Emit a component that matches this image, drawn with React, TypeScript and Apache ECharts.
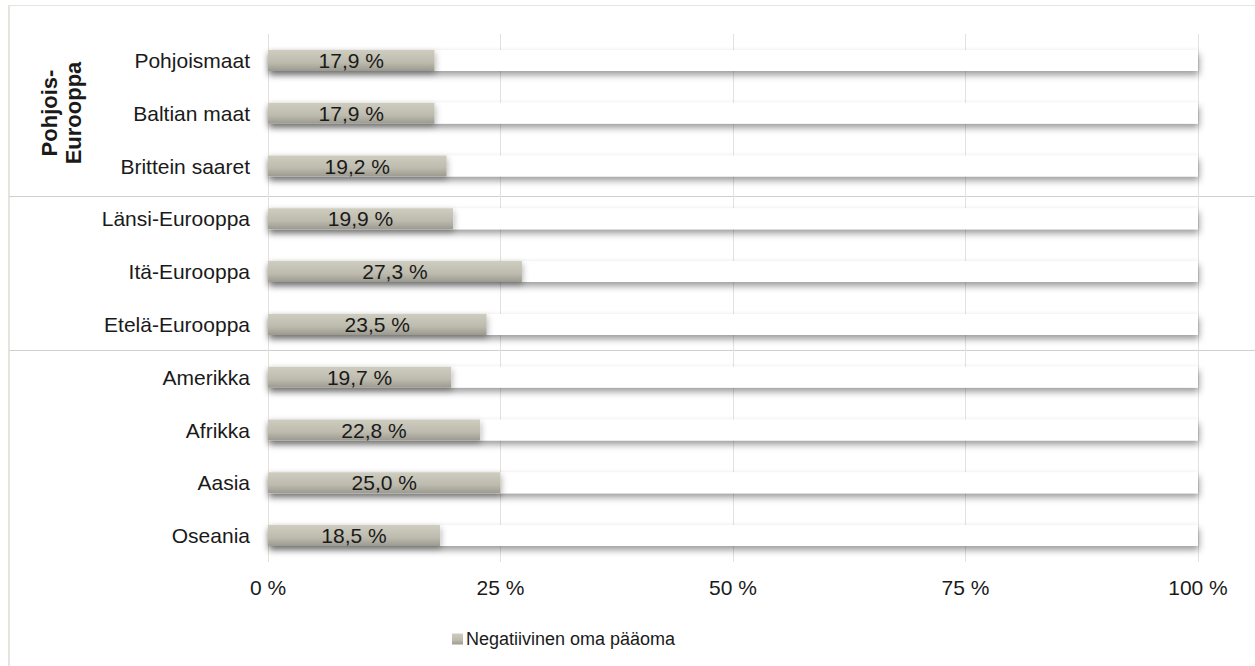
import React, { useEffect, useRef } from "react";
import * as echarts from "echarts";

const categories = [
  "Pohjoismaat",
  "Baltian maat",
  "Brittein saaret",
  "Länsi-Eurooppa",
  "Itä-Eurooppa",
  "Etelä-Eurooppa",
  "Amerikka",
  "Afrikka",
  "Aasia",
  "Oseania",
];
const values = [17.9, 17.9, 19.2, 19.9, 27.3, 23.5, 19.7, 22.8, 25.0, 18.5];
const seriesName = "Negatiivinen oma pääoma";
const groupLabel = "Pohjois-\nEurooppa";
const xTicks = [0, 25, 50, 75, 100];

const FONT = "'Liberation Sans', Arial, Helvetica, sans-serif";

export default function App() {
  const ref = useRef<HTMLDivElement>(null);
  useEffect(() => {
    if (!ref.current) return;
    const chart = echarts.init(ref.current, undefined, { renderer: "svg" });
    const barGrad = new echarts.graphic.LinearGradient(0, 0, 0, 1, [
      { offset: 0, color: "#cfccc0" },
      { offset: 0.6, color: "#bdbaae" },
      { offset: 1, color: "#9c9a8f" },
    ]);
    chart.setOption({
      animation: false,
      backgroundColor: "#ffffff",
      textStyle: { fontFamily: FONT },
      grid: { left: 268, right: 57, top: 34, bottom: 104, containLabel: false },
      legend: {
        data: [seriesName],
        left: 447,
        top: 625,
        icon: "rect",
        itemWidth: 11,
        itemHeight: 11,
        itemGap: 4,
        textStyle: { fontFamily: FONT, fontSize: 18, color: "#1a1a1a", padding: [0, 0, 0, -2] },
        selectedMode: false,
      },
      xAxis: {
        type: "value",
        min: xTicks[0],
        max: xTicks[xTicks.length - 1],
        interval: 25,
        axisLine: { show: false },
        axisTick: { show: false },
        splitLine: { show: true, lineStyle: { color: "#e4e2da", width: 1 } },
        axisLabel: {
          fontFamily: FONT,
          fontSize: 21,
          color: "#1a1a1a",
          margin: 15,
          formatter: (v: number) => `${v} %`,
        },
      },
      yAxis: {
        type: "category",
        data: categories,
        inverse: true,
        axisLine: { show: false },
        axisTick: { show: false },
        splitLine: { show: false },
        axisLabel: { fontFamily: FONT, fontSize: 21, color: "#1a1a1a", margin: 18 },
      },
      series: [
        {
          name: seriesName,
          type: "bar",
          data: values,
          barWidth: 21,
          itemStyle: {
            color: barGrad,
            shadowBlur: 6,
            shadowOffsetX: 1,
            shadowOffsetY: 3,
            shadowColor: "rgba(0,0,0,0.3)",
          },
          showBackground: true,
          backgroundStyle: {
            color: "#ffffff",
            shadowBlur: 7,
            shadowOffsetX: 1,
            shadowOffsetY: 4,
            shadowColor: "rgba(0,0,0,0.4)",
          },
          label: {
            show: true,
            position: "inside",
            fontFamily: FONT,
            fontSize: 21,
            color: "#1a1a1a",
            formatter: (p: any) => `${p.value.toFixed(1).replace(".", ",")} %`,
          },
        },
      ],
      graphic: [
        {
          type: "line",
          silent: true,
          shape: { x1: 9, y1: 5.5, x2: 1255, y2: 5.5 },
          style: { stroke: "#e6e4de", lineWidth: 1 },
        },
        {
          type: "line",
          silent: true,
          shape: { x1: 9, y1: 5, x2: 9, y2: 666 },
          style: { stroke: "#e6e4de", lineWidth: 2 },
        },
        {
          type: "line",
          silent: true,
          shape: { x1: 9, y1: 196.5, x2: 1255, y2: 196.5 },
          style: { stroke: "#cfcfcf", lineWidth: 1 },
        },
        {
          type: "line",
          silent: true,
          shape: { x1: 9, y1: 350.5, x2: 1255, y2: 350.5 },
          style: { stroke: "#cfcfcf", lineWidth: 1 },
        },
        {
          type: "text",
          x: 61,
          y: 113,
          rotation: Math.PI / 2,
          style: {
            text: groupLabel,
            fontFamily: FONT,
            fontSize: 22,
            fontWeight: "bold",
            fill: "#1a1a1a",
            align: "center",
            verticalAlign: "middle",
            lineHeight: 24,
          },
        },
      ],
    });
    return () => chart.dispose();
  }, []);
  return (
    <div
      ref={ref}
      style={{ position: "fixed", left: 0, top: 0, width: 1255, height: 666 }}
    />
  );
}
